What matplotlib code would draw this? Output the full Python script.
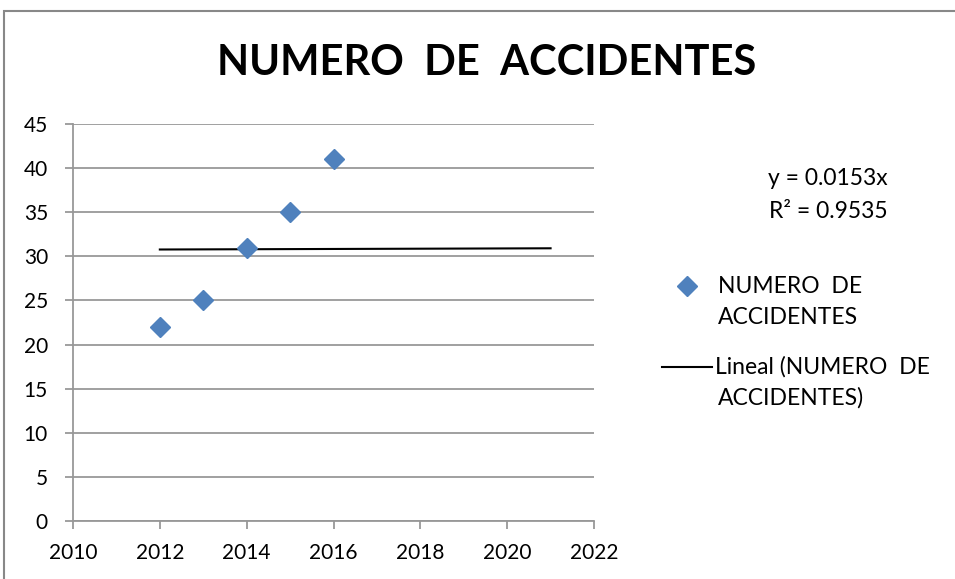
import numpy as np
import matplotlib.pyplot as plt
from matplotlib.lines import Line2D
from matplotlib.patches import Rectangle

years = [2012, 2013, 2014, 2015, 2016]
accidents = [22, 25, 31, 35, 41]
trend_years = [2012, 2021]
r2_text = "R² = 0.9535"

plt.rcParams['font.family'] = ['Lato', 'DejaVu Sans']

W, H = 955, 579
fig = plt.figure(figsize=(W / 100, H / 100), dpi=100)
ax = fig.add_axes([73 / W, 1 - 521 / H, (594 - 73) / W, (521 - 124) / H])

blue = '#4F81BD'
gray = '#989898'

# linear trend through origin
x = np.array(years, dtype=float)
y = np.array(accidents, dtype=float)
slope = (x * y).sum() / (x * x).sum()
tx = np.array(trend_years, dtype=float)

ax.plot(x, y, 'D', color=blue, ms=10.5, zorder=3, clip_on=False)
ax.plot(tx, slope * tx, color='black', lw=1.5, zorder=2)

ax.set_xlim(2010, 2022)
ax.set_ylim(0, 45)
ax.set_xticks(range(2010, 2023, 2))
ax.set_yticks(range(0, 46, 5))
ax.grid(axis='y', color=gray, lw=1.3)
ax.set_axisbelow(True)
for s in ['top', 'right']:
    ax.spines[s].set_visible(False)
for s in ['left', 'bottom']:
    ax.spines[s].set_color(gray)
    ax.spines[s].set_linewidth(1.3)
ax.tick_params(colors=gray, labelcolor='black', labelsize=15, length=6, width=1.3)
ax.tick_params(axis='x', pad=10)
ax.tick_params(axis='y', pad=12)

fig.text(487 / W, 1 - 63 / H, 'NUMERO  DE  ACCIDENTES', ha='center', va='center',
         fontsize=30, fontweight='bold')

# trendline equation
fig.text(828 / W, 1 - 178 / H, f'y = {slope:.4f}x', ha='center', va='center', fontsize=16.5)
fig.text(828 / W, 1 - 212 / H, r2_text, ha='center', va='center', fontsize=16.5)

# legend
fig.add_artist(Line2D([687 / W], [1 - 286 / H], marker='D', color=blue, ms=10.5,
                      transform=fig.transFigure))
fig.text(718 / W, 1 - 286 / H, 'NUMERO  DE', va='center', fontsize=16.5)
fig.text(718 / W, 1 - 318 / H, 'ACCIDENTES', va='center', fontsize=16.5)
fig.add_artist(Line2D([662 / W, 712 / W], [1 - 367 / H, 1 - 367 / H], color='black', lw=1.5,
                      transform=fig.transFigure))
fig.text(715 / W, 1 - 367 / H, 'Lineal (NUMERO  DE', va='center', fontsize=16.5)
fig.text(718 / W, 1 - 398 / H, 'ACCIDENTES)', va='center', fontsize=16.5)

# chart area border
fig.add_artist(Rectangle((4 / W, -0.1), 1.1, 1 - 11 / H + 0.1, fill=False,
                         edgecolor='#888888', lw=1.5, transform=fig.transFigure))

fig.savefig('out.png', dpi=100)
